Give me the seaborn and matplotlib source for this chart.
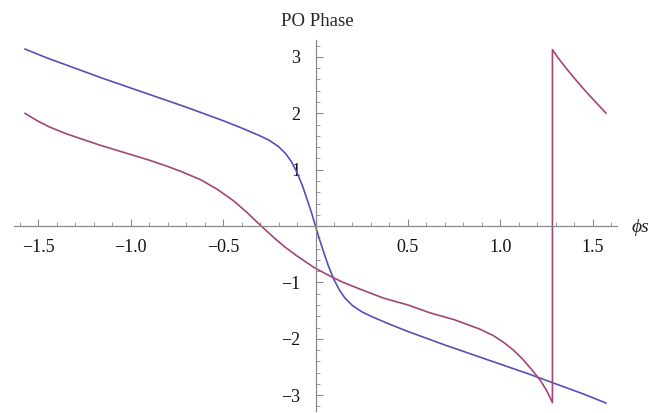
import pandas as pd
import seaborn as sns
import matplotlib.pyplot as plt
from matplotlib.ticker import MultipleLocator, FuncFormatter

# Curves
blue_x = [-1.571, -1.45, -1.3, -1.15, -1.0, -0.85, -0.7, -0.6, -0.5, -0.4, -0.3,
          -0.25, -0.2, -0.16, -0.13, -0.1, -0.07, -0.04, -0.02, 0.0,
          0.02, 0.04, 0.07, 0.1, 0.13, 0.16, 0.2, 0.25, 0.3, 0.4, 0.5, 0.6, 0.7,
          0.85, 1.0, 1.15, 1.3, 1.45, 1.571]
blue_y = [3.14, 2.98, 2.80, 2.62, 2.45, 2.28, 2.11, 1.99, 1.87, 1.74, 1.60,
          1.52, 1.41, 1.28, 1.14, 0.95, 0.71, 0.42, 0.22, 0.0,
          -0.22, -0.42, -0.71, -0.95, -1.14, -1.28, -1.41, -1.52, -1.60, -1.74, -1.87, -1.99, -2.11,
          -2.28, -2.45, -2.62, -2.80, -2.98, -3.14]

purple_x = [-1.571, -1.5, -1.44, -1.35, -1.26, -1.17, -1.08, -0.99, -0.9, -0.81,
            -0.72, -0.62, -0.53, -0.44, -0.37, -0.3, -0.23, -0.17, -0.1, -0.01,
            0.08, 0.15, 0.25, 0.37, 0.5, 0.62, 0.75, 0.89, 0.96, 1.02, 1.07,
            1.12, 1.17, 1.216, 1.25, 1.281, 1.281, 1.31, 1.35, 1.4, 1.45, 1.5, 1.571]
purple_y = [2.0, 1.86, 1.76, 1.64, 1.54, 1.44, 1.35, 1.26, 1.17, 1.07,
            0.96, 0.82, 0.65, 0.44, 0.24, 0.02, -0.19, -0.36, -0.53, -0.73,
            -0.89, -1.0, -1.13, -1.28, -1.40, -1.54, -1.66, -1.83, -1.94, -2.07, -2.20,
            -2.36, -2.55, -2.74, -2.92, -3.13, 3.13, 2.99, 2.82, 2.62, 2.43, 2.25, 2.0]

df = pd.concat([
    pd.DataFrame({'phi': blue_x, 'phase': blue_y, 'curve': 'a'}),
    pd.DataFrame({'phi': purple_x, 'phase': purple_y, 'curve': 'b'}),
], ignore_index=True)

sns.set_style('white')
plt.rcParams['font.family'] = ['Liberation Serif', 'DejaVu Serif']
plt.rcParams['axes.unicode_minus'] = True

fig = plt.figure(figsize=(6.49, 4.13), dpi=100)
ax = fig.add_axes([14 / 649, 1 - 411 / 413, 603 / 649, 371 / 413])

sns.lineplot(data=df, x='phi', y='phase', hue='curve', units='curve',
             estimator=None, sort=False, legend=False, linewidth=1.2,
             palette={'a': '#5252b8', 'b': '#a3457a'}, ax=ax)

ax.set_xlim(-1.63, 1.63)
ax.set_ylim(-3.28, 3.3)
ax.set_xlabel('')
ax.set_ylabel('')

# Mathematica-style axes crossing at the origin
ax.spines['left'].set_position(('data', 0))
ax.spines['bottom'].set_position(('data', 0))
ax.spines['right'].set_visible(False)
ax.spines['top'].set_visible(False)
for s in ['left', 'bottom']:
    ax.spines[s].set_color('#8a8a8a')
    ax.spines[s].set_linewidth(0.9)

ax.xaxis.set_major_locator(MultipleLocator(0.5))
ax.xaxis.set_minor_locator(MultipleLocator(0.1))
ax.yaxis.set_major_locator(MultipleLocator(1))
ax.yaxis.set_minor_locator(MultipleLocator(0.2))

def fmt_x(v, pos):
    if abs(v) < 1e-9:
        return ''
    return f'{v:.1f}'.replace('-', '\u2212')

def fmt_y(v, pos):
    if abs(v) < 1e-9:
        return ''
    return f'{v:.0f}'.replace('-', '\u2212')

ax.xaxis.set_major_formatter(FuncFormatter(fmt_x))
ax.yaxis.set_major_formatter(FuncFormatter(fmt_y))
ax.tick_params(axis='both', which='both', direction='in', color='#8a8a8a',
               labelsize=13, labelcolor='#111111', bottom=True, left=True)
ax.tick_params(axis='both', which='major', length=5, width=0.8)
ax.tick_params(axis='both', which='minor', length=3, width=0.6)
ax.tick_params(axis='x', which='major', pad=9)
ax.tick_params(axis='y', which='major', pad=11)

fig.text(317 / 649, 1 - 22 / 413, 'PO Phase', ha='center', va='center', fontsize=13.5)
fig.text(632 / 649, 1 - 228 / 413, '\u03d5s', ha='left', va='center',
         fontsize=14, style='italic')

fig.savefig('out.png', dpi=100)
